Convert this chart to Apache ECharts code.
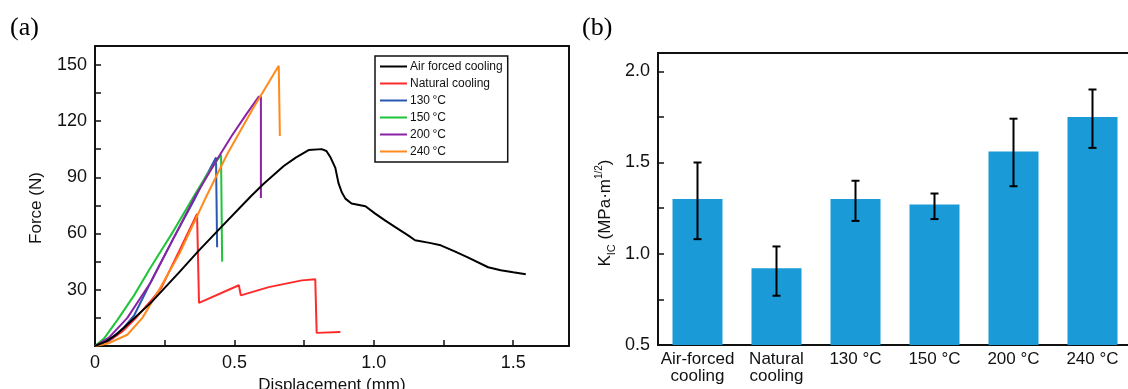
<!DOCTYPE html>
<html>
<head>
<meta charset="utf-8">
<script src="https://cdn.jsdelivr.net/npm/echarts@6/dist/echarts.min.js"></script>
<style>
html,body{margin:0;padding:0;background:#fff;}
#chart{width:1128px;height:389px;}
</style>
</head>
<body>
<div id="chart"></div>
<script>
// ---- Panel (a): force-displacement curves [displacement mm, force N] ----
const airForced = [[0,0],[0.04,2.5],[0.08,6.5],[0.116,11.5],[0.2,23],[0.3,39],[0.373,51],[0.45,63],[0.56,80],[0.605,86.5],[0.677,96],[0.72,100.5],[0.766,104.5],[0.813,105],[0.83,104],[0.845,100.5],[0.862,95],[0.873,87],[0.885,82],[0.898,78.6],[0.92,76],[0.97,74.5],[1.005,70.6],[1.04,67],[1.077,63.4],[1.123,59],[1.148,56.4],[1.2,55],[1.24,53.7],[1.29,50.5],[1.337,47.3],[1.41,42],[1.455,40.4],[1.5,39.3],[1.545,38.3]];
const naturalCooling = [[0,0],[0.05,2.5],[0.1,8],[0.15,15.5],[0.2,24],[0.2375,31],[0.3,50],[0.366,70.5],[0.373,23],[0.516,32.4],[0.523,27],[0.623,31.4],[0.742,35],[0.79,35.6],[0.795,7],[0.88,7.5]];
const t130 = [[0,0],[0.05,3],[0.105,10],[0.141,16.5],[0.2125,37.8],[0.28,57],[0.355,77.7],[0.4,91],[0.434,100.5],[0.438,100.5],[0.438,52.7]];
const t150 = [[0,0],[0.034,4.3],[0.08,13.8],[0.14,27],[0.2,42],[0.28,61],[0.355,80],[0.4,91],[0.452,102],[0.456,102],[0.456,45]];
const t200 = [[0,0],[0.05,4.5],[0.116,15],[0.2,34],[0.28,57],[0.36,80],[0.44,100],[0.49,112],[0.54,123],[0.5875,133],[0.595,133],[0.595,79]];
const t240 = [[0,0],[0.05,1.5],[0.116,6],[0.17,15],[0.23,30],[0.302,49],[0.4,80],[0.473,102],[0.564,126],[0.659,149.5],[0.663,149.5],[0.663,112]];
const curveNames = ['Air forced cooling','Natural cooling','130\u2009°C','150\u2009°C','200\u2009°C','240\u2009°C'];

// ---- Panel (b): fracture toughness K_IC ----
const categories = ['Air-forced\ncooling','Natural\ncooling','130 °C','150 °C','200 °C','240 °C'];
const kicMean = [1.30, 0.92, 1.30, 1.27, 1.56, 1.75];
const kicLow  = [1.08, 0.77, 1.18, 1.19, 1.37, 1.58];
const kicHigh = [1.50, 1.04, 1.40, 1.33, 1.74, 1.90];

const curveData = [airForced, naturalCooling, t130, t150, t200, t240];
const curveColors = ['#000000','#ff2b2b','#2a57b0','#1fc43a','#8b22a6','#ff8a1c'];
const FONT = '"Liberation Sans", Arial, sans-serif';

function isMult(v, step){ const r = v/step; return Math.abs(r - Math.round(r)) < 1e-6; }

const chart = echarts.init(document.getElementById('chart'), null, {renderer:'canvas'});

const series = curveData.map((d,i)=>({
  name: curveNames[i], type:'line', xAxisIndex:0, yAxisIndex:0,
  data: d, showSymbol:false, symbol:'none', smooth:false,
  lineStyle:{width:2, color:curveColors[i]}, itemStyle:{color:curveColors[i]},
  z: i===0 ? 3 : 2
}));

series.push({
  type:'bar', xAxisIndex:1, yAxisIndex:1, data:kicMean, barWidth:50,
  itemStyle:{color:'#1a9ad6'}, silent:true
});
series.push({
  type:'custom', xAxisIndex:1, yAxisIndex:1, z:5,
  data: categories.map((c,i)=>[i, kicLow[i], kicHigh[i]]),
  renderItem: function(params, api){
    const lo = api.coord([api.value(0), api.value(1)]);
    const hi = api.coord([api.value(0), api.value(2)]);
    const w = 4;
    const st = {stroke:'#000', lineWidth:2};
    return {type:'group', children:[
      {type:'line', shape:{x1:lo[0],y1:lo[1],x2:hi[0],y2:hi[1]}, style:st},
      {type:'line', shape:{x1:lo[0]-w,y1:lo[1],x2:lo[0]+w,y2:lo[1]}, style:st},
      {type:'line', shape:{x1:hi[0]-w,y1:hi[1],x2:hi[0]+w,y2:hi[1]}, style:st}
    ]};
  }
});

const option = {
  animation:false,
  backgroundColor:'#fff',
  textStyle:{fontFamily:FONT},
  graphic:[
    {type:'text', left:10, top:15, style:{text:'(a)', font:'26px "Liberation Serif", "Times New Roman", serif', fill:'#000'}},
    {type:'text', left:582, top:15, style:{text:'(b)', font:'26px "Liberation Serif", "Times New Roman", serif', fill:'#000'}}
  ],
  legend:{
    data: curveNames, left:375, top:56, orient:'vertical',
    icon:'rect', itemWidth:27, itemHeight:2, itemGap:4,
    borderColor:'#111', borderWidth:1.5, padding:[4,5,4,5], borderRadius:0,
    textStyle:{fontSize:12, color:'#111', fontFamily:FONT, lineHeight:13, padding:[0,0,0,-2]},
    selectedMode:false
  },
  grid:[
    {left:95, top:46, width:474, height:300, show:true, borderColor:'#111', borderWidth:2, backgroundColor:'transparent', containLabel:false, outerBoundsMode:'none'},
    {left:658, top:53, width:474, height:292, show:true, borderColor:'#111', borderWidth:2, backgroundColor:'transparent', containLabel:false, outerBoundsMode:'none'}
  ],
  xAxis:[
    {type:'value', gridIndex:0, min:0, max:1.7, interval:0.25,
     name:'Displacement (mm)', nameLocation:'middle', nameGap:30,
     nameTextStyle:{fontSize:17, color:'#111', fontFamily:FONT},
     axisLine:{show:true, lineStyle:{color:'#111', width:2}},
     axisTick:{show:true, inside:true, length:6, lineStyle:{color:'#111', width:1.5}},
     axisLabel:{fontSize:18, color:'#111', margin:8, showMaxLabel:false,
       formatter:v=> (isMult(v,0.5) ? (v===0?'0':v.toFixed(1)) : '')},
     splitLine:{show:false}},
    {type:'category', gridIndex:1, data:categories,
     axisLine:{show:true, lineStyle:{color:'#111', width:2}},
     axisTick:{show:false},
     axisLabel:{fontSize:17, color:'#111', margin:6, lineHeight:17, interval:0},
     splitLine:{show:false}}
  ],
  yAxis:[
    {type:'value', gridIndex:0, min:0, max:160, interval:15,
     name:'Force (N)', nameLocation:'middle', nameGap:50, nameRotate:90,
     nameTextStyle:{fontSize:17, color:'#111', fontFamily:FONT, padding:[0,24,0,0]},
     axisLine:{show:true, lineStyle:{color:'#111', width:2}},
     axisTick:{show:true, inside:true, length:6, lineStyle:{color:'#111', width:1.5}},
     axisLabel:{fontSize:18, color:'#111', margin:8, showMinLabel:false, showMaxLabel:false,
       formatter:v=> (v!==0 && isMult(v,30) ? String(v) : '')},
     splitLine:{show:false}},
    {type:'value', gridIndex:1, min:0.5, max:2.1, interval:0.25,
     name:'{k|K}{sub|IC}{n| (MPa·m}{sup|1/2}{n|)}', nameLocation:'middle', nameGap:44, nameRotate:90,
     nameTextStyle:{color:'#111', fontFamily:FONT, padding:[0,28,0,0],
       rich:{
         k:{fontSize:17, color:'#111', fontFamily:FONT, lineHeight:20, verticalAlign:'bottom'},
         n:{fontSize:17, color:'#111', fontFamily:FONT, lineHeight:20, verticalAlign:'bottom'},
         sub:{fontSize:11, color:'#111', fontFamily:FONT, lineHeight:20, verticalAlign:'bottom', padding:[0,0,-3,0]},
         sup:{fontSize:10, color:'#111', fontFamily:FONT, lineHeight:20, verticalAlign:'top'}
       }},
     axisLine:{show:true, lineStyle:{color:'#111', width:2}},
     axisTick:{show:true, inside:true, length:6, lineStyle:{color:'#111', width:1.5}},
     axisLabel:{fontSize:18, color:'#111', margin:8, showMaxLabel:false,
       formatter:v=> (isMult(v,0.5) ? v.toFixed(1) : '')},
     splitLine:{show:false}}
  ],
  series: series
};
chart.setOption(option);
</script>
</body>
</html>
